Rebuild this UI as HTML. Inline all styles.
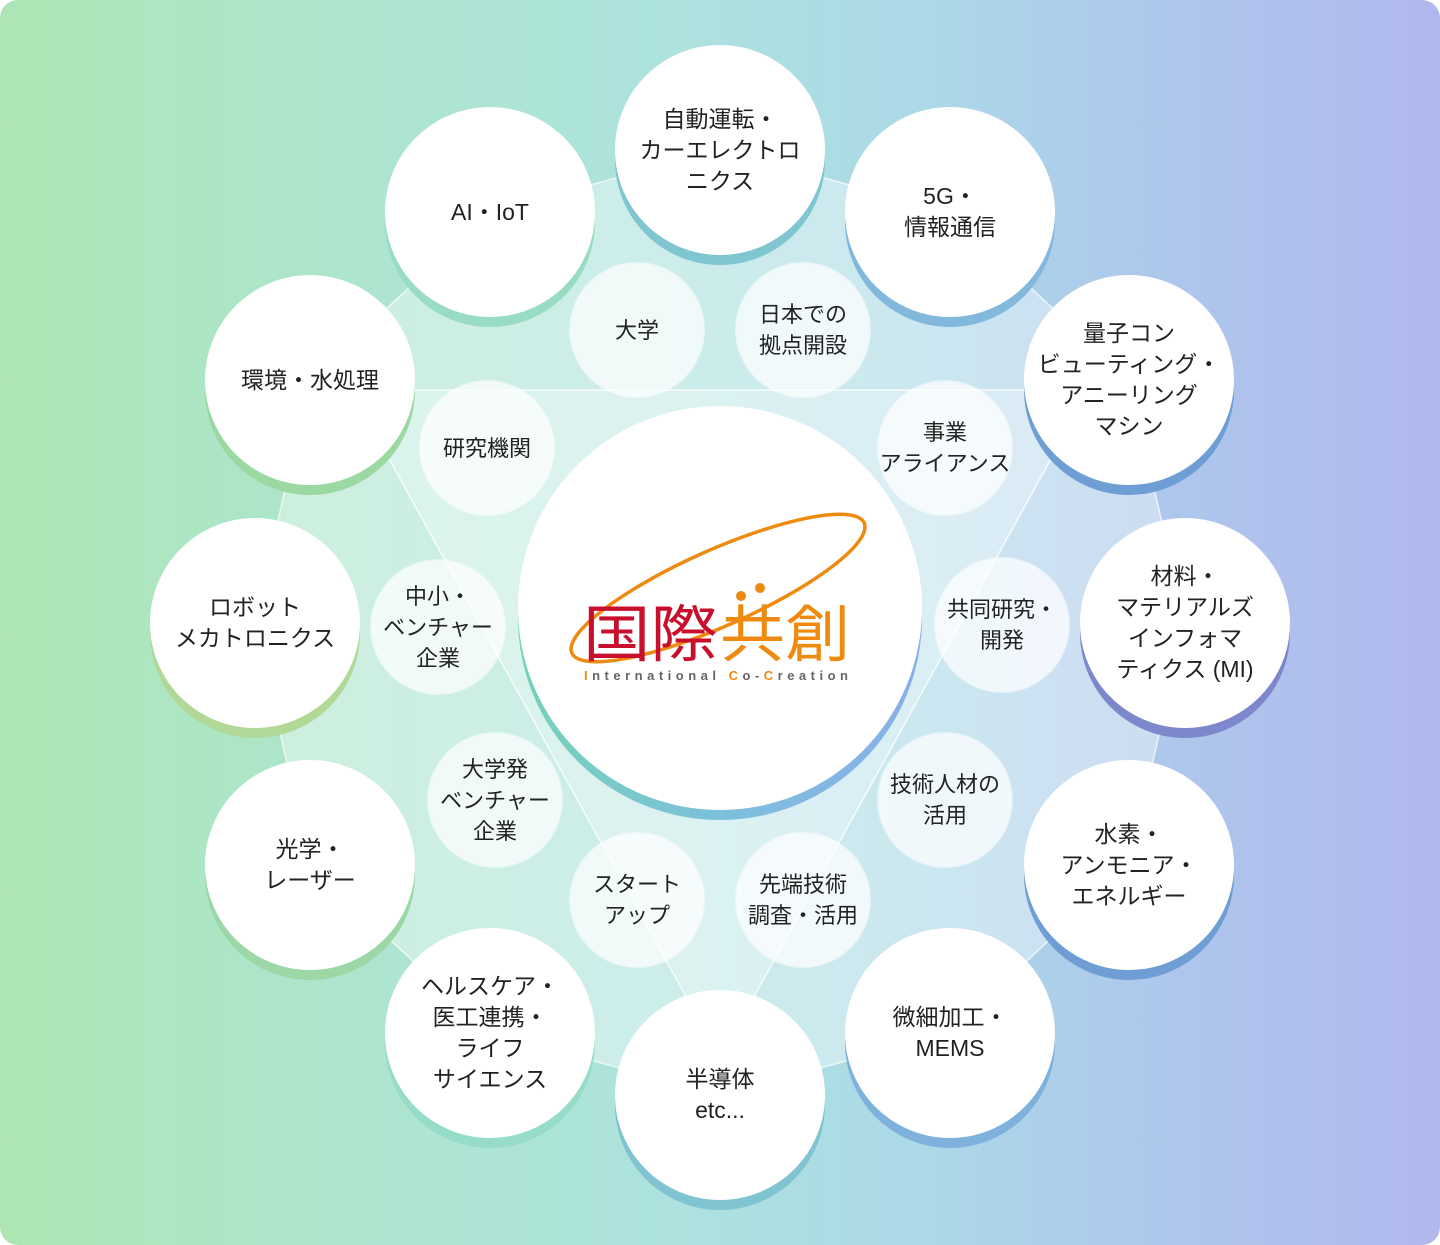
<!DOCTYPE html>
<html><head><meta charset="utf-8"><style>
html,body{margin:0;padding:0;background:#fff}
#c{position:relative;width:1440px;height:1245px;border-radius:18px;overflow:hidden;
background:linear-gradient(90deg,#ade6b4 0%,#ade5cf 25%,#ade3dd 45%,#acd8e8 65%,#aec6ec 82%,#b0b8ee 100%);
font-family:"Liberation Sans","Noto Sans CJK JP",sans-serif;color:#222}
svg.bg{position:absolute;left:0;top:0}
.o{position:absolute;width:210px;height:210px;border-radius:50%;background:#fff;display:flex;align-items:center;justify-content:center;text-align:center;font-size:23px;line-height:31px}
.i{position:absolute;width:134px;height:134px;border-radius:50%;background:rgba(255,255,255,0.72);box-shadow:0 0 0 1px rgba(255,255,255,0.5);display:flex;align-items:center;justify-content:center;text-align:center;font-size:22px;line-height:31px}
#cen{position:absolute;left:518px;top:406px;width:404px;height:404px;border-radius:50%;background:#fff}
#cenS{position:absolute;left:518px;top:416px;width:404px;height:404px;border-radius:50%;background:linear-gradient(90deg,#76d2b8,#7cc0dc,#8aaeea)}
</style></head><body><div id="c">
<svg class="bg" width="1440" height="1245">
<polygon points="720,150 950,212 1129,380 1185,622 1129,865 950,1033 720,1095 490,1033 310,865 255,622 310,380 490,212" fill="rgba(255,255,255,0.38)" stroke="rgba(255,255,255,0.7)" stroke-width="1.5"/>
<polygon points="351,390 1089,390 720,1058" fill="rgba(255,255,255,0.3)" stroke="rgba(255,255,255,0.8)" stroke-width="1.5"/>
</svg>
<div class="o" style="left:615px;top:45px;box-shadow:0 10px 0 #80c6d0">自動運転・<br>カーエレクトロ<br>ニクス</div>
<div class="o" style="left:845px;top:107px;box-shadow:0 10px 0 #82b8dc">5G・<br>情報通信</div>
<div class="o" style="left:1024px;top:275px;box-shadow:0 10px 0 #6f9ed4">量子コン<br>ビューティング・<br>アニーリング<br>マシン</div>
<div class="o" style="left:1080px;top:518px;box-shadow:0 10px 0 #7d88cc">材料・<br>マテリアルズ<br>インフォマ<br>ティクス (MI)</div>
<div class="o" style="left:1024px;top:760px;box-shadow:0 10px 0 #6f9ed4">水素・<br>アンモニア・<br>エネルギー</div>
<div class="o" style="left:845px;top:928px;box-shadow:0 10px 0 #7eb2dc">微細加工・<br>MEMS</div>
<div class="o" style="left:615px;top:990px;box-shadow:0 10px 0 #80c4d2">半導体<br>etc...</div>
<div class="o" style="left:385px;top:928px;box-shadow:0 10px 0 #96dcc8">ヘルスケア・<br>医工連携・<br>ライフ<br>サイエンス</div>
<div class="o" style="left:205px;top:760px;box-shadow:0 10px 0 #9cd8a6">光学・<br>レーザー</div>
<div class="o" style="left:150px;top:518px;box-shadow:0 10px 0 #b2d898">ロボット<br>メカトロニクス</div>
<div class="o" style="left:205px;top:275px;box-shadow:0 10px 0 #9cd8a2">環境・水処理</div>
<div class="o" style="left:385px;top:107px;box-shadow:0 10px 0 #98dcc4">AI・IoT</div>
<div class="i" style="left:570px;top:263px">大学</div>
<div class="i" style="left:736px;top:263px">日本での<br>拠点開設</div>
<div class="i" style="left:878px;top:381px">事業<br>アライアンス</div>
<div class="i" style="left:935px;top:558px">共同研究・<br>開発</div>
<div class="i" style="left:878px;top:733px">技術人材の<br>活用</div>
<div class="i" style="left:736px;top:833px">先端技術<br>調査・活用</div>
<div class="i" style="left:570px;top:833px">スタート<br>アップ</div>
<div class="i" style="left:428px;top:733px">大学発<br>ベンチャー<br>企業</div>
<div class="i" style="left:371px;top:560px">中小・<br>ベンチャー<br>企業</div>
<div class="i" style="left:420px;top:381px">研究機関</div>
<div id="cenS"></div><div id="cen"></div>
<svg class="bg" width="1440" height="1245">
<ellipse cx="718" cy="588" rx="160" ry="38" transform="rotate(-24 718 588)" fill="none" stroke="#ee8a10" stroke-width="3.5"/>
<text x="583" y="656" font-size="62" fill="#c8102e" font-family="Noto Sans CJK JP,sans-serif" textLength="135" lengthAdjust="spacingAndGlyphs">国際</text>
<text x="720" y="656" font-size="62" fill="#ee8a10" font-family="Noto Sans CJK JP,sans-serif" textLength="130" lengthAdjust="spacingAndGlyphs">共創</text>
<circle cx="741" cy="596" r="5" fill="#ee8a10"/><circle cx="760" cy="588" r="5" fill="#ee8a10"/>
<text x="584" y="680" font-size="13" font-weight="bold" fill="#666" textLength="264" lengthAdjust="spacing" font-family="Liberation Sans,sans-serif"><tspan fill="#ee8a10">I</tspan>nternational <tspan fill="#ee8a10">C</tspan>o-<tspan fill="#ee8a10">C</tspan>reation</text>
</svg>
</div></body></html>
